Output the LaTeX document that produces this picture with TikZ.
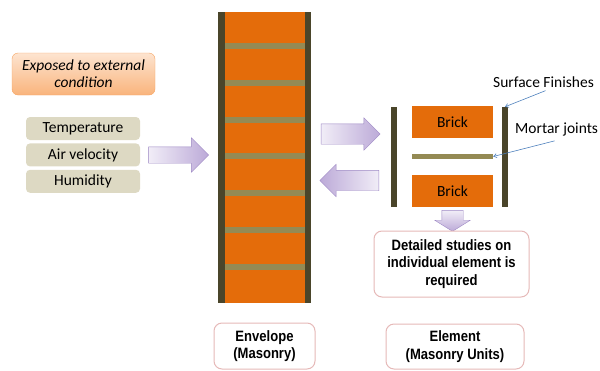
\documentclass[tikz,border=0pt]{standalone}
\usepackage{fontspec}
\setmainfont{Carlito}
\newfontfamily\narrowsans[FakeStretch=0.87]{Liberation Sans}
\usetikzlibrary{positioning,shapes.arrows,arrows.meta}

\definecolor{brick}{HTML}{E46C0A}
\definecolor{finish}{HTML}{4A452A}
\definecolor{mortar}{HTML}{948A54}
\definecolor{boxline}{HTML}{E6B9B8}
\definecolor{peach}{HTML}{FDE4D0}
\definecolor{peachdark}{HTML}{F9B47C}
\definecolor{peachline}{HTML}{F6A462}
\definecolor{stone}{HTML}{DDD9C3}
\definecolor{lilac}{HTML}{F1EDF7}
\definecolor{lilacdark}{HTML}{BCAAD8}
\definecolor{lilacline}{HTML}{9D88C4}
\definecolor{pointer}{HTML}{4F81BD}

\tikzset{
  exposed/.style={rounded corners=6pt, draw=peachline, top color=peach, bottom color=peachdark,
    minimum width=143pt, minimum height=42pt, inner sep=0pt, align=center,
    font=\itshape\fontsize{15.5}{17}\selectfont},
  condition/.style={rounded corners=4pt, fill=stone, minimum width=114pt, minimum height=23pt,
    inner sep=0pt, font=\fontsize{15.5}{17}\selectfont},
  labelbox/.style={rounded corners=8pt, draw=boxline, line width=1pt, fill=white, align=center,
    inner sep=0pt, font=\narrowsans\bfseries\fontsize{15}{17.5}\selectfont},
  brickbox/.style={fill=brick, minimum width=81pt, minimum height=32pt, inner sep=0pt,
    font=\fontsize{15.5}{17}\selectfont},
  finishbar/.style={fill=finish, minimum width=6pt, minimum height=100pt, inner sep=0pt},
  bigarrow/.style={single arrow, draw=lilacline, left color=lilac, right color=lilacdark,
    inner sep=10pt, single arrow head extend=6pt},
  pointer/.style={draw=pointer, line width=0.6pt, -{Straight Barb[length=3pt,width=4pt]}},
  note/.style={inner sep=0pt, anchor=west, font=\fontsize{15.5}{17}\selectfont}
}

\begin{document}
\begin{tikzpicture}[x=1pt,y=-1pt]
  \useasboundingbox (0,0) rectangle (600,370);

  % outside conditions
  \node[exposed] (expo) at (83.5,74) {Exposed to external\\condition};
  \node[condition] (temp) at (83,128.5) {Temperature};
  \node[condition, below=3pt of temp] (air) {Air velocity};
  \node[condition, below=3pt of air] (hum) {Humidity};
  \node[bigarrow, inner sep=8pt, single arrow head extend=9pt, minimum height=60pt] (toenv) at (174.5,155) {};

  % envelope (wall)
  \node[fill=brick, minimum width=80pt, minimum height=291pt, inner sep=0pt] (wall) at (265,157.5) {};
  \fill[finish] (wall.north west) rectangle ([xshift=-7pt]wall.south west);
  \fill[finish] (wall.north east) rectangle ([xshift=6pt]wall.south east);
  \foreach \k in {0,...,6}
    \fill[mortar] (225,43+36.8*\k) rectangle (305,49+36.8*\k);
  \node[labelbox, minimum width=101pt, minimum height=46pt] (env) at (264.5,346) {Envelope\\(Masonry)};

  % element
  \node[bigarrow, minimum height=59pt] (toelem) at (345.5,134) {};
  \node[bigarrow, minimum height=59pt, left color=lilacdark, right color=lilac,
    shape border rotate=180] (back) at (354.5,180.5) {};
  \node[finishbar] (lfin) at (394,157) {};
  \node[finishbar] (rfin) at (505,157) {};
  \node[brickbox] (brick1) at (452.5,122) {Brick};
  \node[fill=mortar, minimum width=81pt, minimum height=5pt, inner sep=0pt] (joint) at (452.5,156.5) {};
  \node[brickbox] (brick2) at (452.5,191) {Brick};

  \node[note] (sf) at (493,82) {Surface Finishes};
  \node[note] (mj) at (515,129) {Mortar joints};
  \draw[pointer] ([xshift=2pt,yshift=-3pt]sf.south) -- (rfin.north);
  \draw[pointer] ([xshift=-2pt,yshift=-5pt]mj.south) -- (joint.east);

  \node[single arrow, draw=lilacline, top color=lilac, bottom color=lilacdark,
    inner xsep=10.5pt, inner ysep=0pt, minimum height=21pt, single arrow head extend=7pt,
    single arrow tip angle=116, shape border rotate=270] (down) at (452.5,217.5) {};
  \node[labelbox, minimum width=155pt, minimum height=66pt] (study) at (451.5,264)
    {Detailed studies on\\individual element is\\required};
  \node[labelbox, minimum width=138pt, minimum height=45pt] (elem) at (455,346.5) {Element\\(Masonry Units)};
\end{tikzpicture}
\end{document}
